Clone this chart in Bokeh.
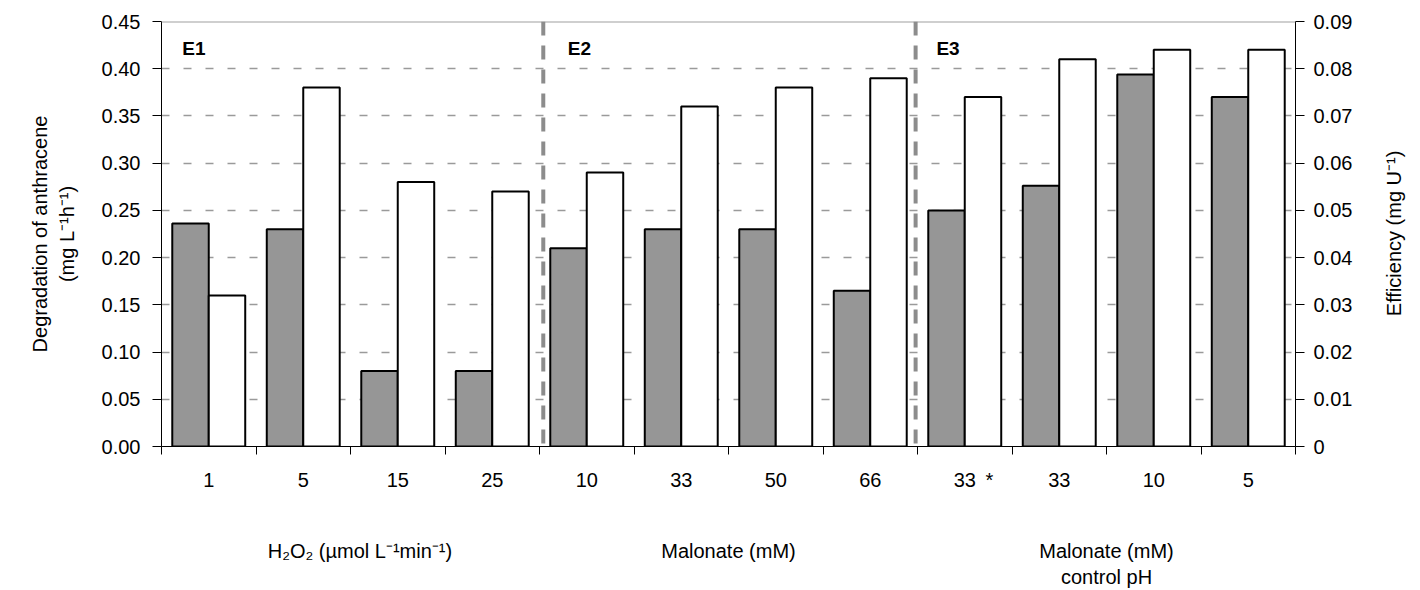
import math
from bokeh.plotting import figure
from bokeh.models import (Range1d, LinearAxis, FixedTicker, NumeralTickFormatter,
                          Span, Label, ColumnDataSource)
from bokeh.embed import file_html
from bokeh.resources import INLINE

# ---------------- data ----------------
tick_labels = ["1", "5", "15", "25", "10", "33", "50", "66", "33", "33", "10", "5"]
degradation = [0.236, 0.23, 0.08, 0.08, 0.21, 0.23, 0.23, 0.165, 0.25, 0.276, 0.394, 0.37]
efficiency = [0.032, 0.076, 0.056, 0.054, 0.058, 0.072, 0.076, 0.078, 0.074, 0.082, 0.084, 0.084]
groups = ["E1", "E2", "E3"]
group_titles = ["H\u2082O\u2082 (\u00b5mol L\u207b\u00b9min\u207b\u00b9)", "Malonate (mM)", "Malonate (mM)\ncontrol pH"]
left_ticks = [0.0, 0.05, 0.10, 0.15, 0.20, 0.25, 0.30, 0.35, 0.40, 0.45]
right_ticks = [0.0, 0.01, 0.02, 0.03, 0.04, 0.05, 0.06, 0.07, 0.08, 0.09]
left_title = "Degradation of anthracene\n(mg L\u207b\u00b9h\u207b\u00b9)"
right_title = "Efficiency (mg U\u207b\u00b9)"

FONT = "Liberation Sans"
FS = "20px"
n = len(tick_labels)
bw = 0.386
centers = [i + 0.5 for i in range(n)]

p = figure(width=1420, height=590, output_backend="svg", toolbar_location=None,
           x_range=Range1d(0, n), y_range=Range1d(0, 0.45),
           min_border_left=161, min_border_right=125, min_border_top=21, min_border_bottom=143)
p.outline_line_color = None
p.background_fill_color = "white"
p.border_fill_color = "white"
p.extra_y_ranges = {"eff": Range1d(0, 0.09)}

# grid
p.xgrid.visible = False
p.ygrid.ticker = FixedTicker(ticks=left_ticks[1:-1])
p.ygrid.grid_line_color = "#9a9a9a"
p.ygrid.grid_line_dash = "8 14"
p.ygrid.grid_line_width = 1.5
p.add_layout(Span(location=0.45, dimension="width", line_color="#a0a0a0", line_width=2))


def style_axis(ax):
    ax.major_label_text_font = FONT
    ax.major_label_text_font_size = FS
    ax.major_label_text_color = "black"
    ax.axis_label_text_font = FONT
    ax.axis_label_text_font_size = FS
    ax.axis_label_text_font_style = "normal"
    ax.axis_label_text_color = "black"
    ax.axis_line_color = "black"
    ax.major_tick_line_color = "black"


# left axis
ya = p.yaxis[0]
style_axis(ya)
ya.ticker = FixedTicker(ticks=left_ticks)
ya.formatter = NumeralTickFormatter(format="0.00")
ya.major_tick_in = 0
ya.major_tick_out = 9
ya.minor_tick_line_color = None
ya.major_label_standoff = 12
ya.axis_label = left_title
ya.axis_label_standoff = 21

# right axis
ra = LinearAxis(y_range_name="eff", ticker=FixedTicker(ticks=right_ticks),
                formatter=NumeralTickFormatter(format="0.00"))
style_axis(ra)
ra.major_label_overrides = {0: "0"}
ra.major_tick_in = 0
ra.major_tick_out = 9
ra.minor_tick_line_color = None
ra.major_label_standoff = 9
p.add_layout(ra, "right")

# right title, written bottom-to-top, starting at the given efficiency level
title_start = 0.0276
rt = LinearAxis(y_range_name="eff", ticker=FixedTicker(ticks=[title_start]))
style_axis(rt)
rt.major_label_overrides = {title_start: right_title}
rt.major_label_orientation = math.pi / 2
rt.axis_line_color = None
rt.major_tick_line_color = None
rt.minor_tick_line_color = None
rt.major_label_standoff = 33
p.add_layout(rt, "right")

# x axis: category values (plus the asterisk mark next to the first "33")
xa = p.xaxis[0]
style_axis(xa)
overrides = {c: t for c, t in zip(centers, tick_labels)}
overrides[8.76] = "*"
xa.ticker = FixedTicker(ticks=centers + [8.76], minor_ticks=list(range(n + 1)))
xa.major_label_overrides = overrides
xa.major_tick_in = 0
xa.major_tick_out = 0
xa.minor_tick_in = 0
xa.minor_tick_out = 8
xa.minor_tick_line_color = "black"
xa.major_label_standoff = 14

# second x axis: group titles
group_x = [2.1, 6.0, 10.0]
xb = LinearAxis(ticker=FixedTicker(ticks=group_x))
style_axis(xb)
xb.major_label_overrides = {gx: t for gx, t in zip(group_x, group_titles)}
xb.axis_line_color = None
xb.major_tick_line_color = None
xb.minor_tick_line_color = None
xb.major_label_standoff = 40
p.add_layout(xb, "below")

# bars
src = ColumnDataSource(dict(
    xg=[c - bw / 2 for c in centers],
    xw=[c + bw / 2 for c in centers],
    deg=degradation, eff=efficiency))
p.vbar(x="xg", top="deg", bottom=0, width=bw, source=src,
       fill_color="#969696", line_color="black", line_width=2)
p.vbar(x="xw", top="eff", bottom=0, width=bw, source=src, y_range_name="eff",
       fill_color="white", line_color="black", line_width=2)

# dividers
for loc in (4.04, 7.98):
    p.add_layout(Span(location=loc, dimension="height", line_color="#8c8c8c",
                      line_width=4, line_dash="14 10"))

# experiment labels
for gx, g in zip((0.22, 4.3, 8.2), groups):
    p.add_layout(Label(x=gx, y=0.421, text=g, text_font=FONT, text_font_size="19px",
                       text_color="black", text_font_style="bold",
                       text_baseline="middle", text_align="left"))

open("out.html", "w").write(file_html(p, INLINE))
